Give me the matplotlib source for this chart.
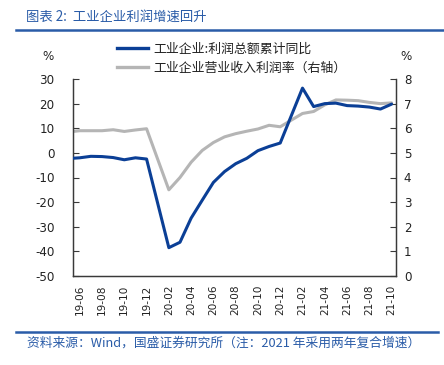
import matplotlib
matplotlib.use("Agg")
import matplotlib.pyplot as plt
from matplotlib.lines import Line2D

plt.rcParams['font.family'] = ['DejaVu Sans', 'Noto Sans CJK SC']
plt.rcParams['axes.unicode_minus'] = False
CJK = ['Noto Sans CJK SC', 'DejaVu Sans']

# ---------------- data ----------------
months = ["19-05", "19-06", "19-07", "19-08", "19-09", "19-10", "19-11", "19-12",
          "20-02", "20-03", "20-04", "20-05", "20-06", "20-07", "20-08", "20-09",
          "20-10", "20-11", "20-12",
          "21-02", "21-03", "21-04", "21-05", "21-06", "21-07", "21-08", "21-09", "21-10"]
profit_yoy = [-2.3, -2.0, -1.4, -1.5, -1.9, -2.8, -2.0, -2.5,
              -38.5, -36.3, -26.5, -19.2, -12.0, -7.6, -4.4, -2.2,
              0.9, 2.6, 4.0,
              26.3, 18.8, 20.0, 20.2, 19.2, 19.0, 18.6, 17.8, 19.8]
margin = [5.85, 5.90, 5.90, 5.90, 5.94, 5.87, 5.93, 5.98,
          3.50, 4.00, 4.62, 5.10, 5.42, 5.65, 5.78, 5.88,
          5.97, 6.12, 6.06,
          6.60, 6.68, 6.95, 7.15, 7.14, 7.12, 7.05, 7.00, 7.03]
tick_labels = ["19-06", "19-08", "19-10", "19-12", "20-02", "20-04", "20-06", "20-08",
               "20-10", "20-12", "21-02", "21-04", "21-06", "21-08", "21-10"]
left_ticks = [30, 20, 10, 0, -10, -20, -30, -40, -50]
right_ticks = [0, 1, 2, 3, 4, 5, 6, 7, 8]
series_names = ["工业企业:利润总额累计同比", "工业企业营业收入利润率（右轴）"]
title_text = "图表 2:  工业企业利润增速回升"
source_text = "资料来源：Wind，国盛证券研究所（注：2021 年采用两年复合增速）"


def month_index(lbl):
    y, m = lbl.split("-")
    return (int(y) - 19) * 12 + int(m) - 6


x = [month_index(m) for m in months]
tx = [month_index(m) for m in tick_labels]

BLUE = "#0b3f96"
GRAY = "#b5b5b5"
HEAD = "#2a5ca8"
SPINE = "#3a3a3a"

fig = plt.figure(figsize=(4.44, 3.65), dpi=100)
W, H = 444, 365
ax = fig.add_axes([72.5 / W, 1 - 276 / H, (395.5 - 72.5) / W, (276 - 79) / H])
ax2 = ax.twinx()

ax2.plot(x, margin, color=GRAY, lw=2.2, solid_joinstyle='round', solid_capstyle='round', zorder=2)
ax.plot(x, profit_yoy, color=BLUE, lw=2.2, solid_joinstyle='round', solid_capstyle='round', zorder=3)
ax.set_zorder(ax2.get_zorder() + 1)
ax.patch.set_visible(False)

ax.set_xlim(-0.65, 28.35)
ax.set_ylim(-50, 30)
ax2.set_ylim(0, 8)
ax.set_yticks(left_ticks)
ax2.set_yticks(right_ticks)
ax.set_xticks(tx)
ax.set_xticklabels(tick_labels, rotation=90, fontsize=7.6, color="#222222")
ax.tick_params(axis='x', length=0, pad=6)
ax.tick_params(axis='y', direction='in', length=4, width=0.8, color=SPINE,
               labelsize=8.6, pad=13, labelcolor="#222222")
ax2.tick_params(axis='y', direction='in', length=4, width=0.8, color=SPINE,
                labelsize=8.6, pad=6, labelcolor="#222222")

for a in (ax, ax2):
    a.spines['top'].set_visible(False)
    for s in ('left', 'right', 'bottom'):
        a.spines[s].set_color(SPINE)
        a.spines[s].set_linewidth(0.9)

# percent labels
fig.text(48 / W, 1 - 56 / H, "%", fontsize=8.6, color="#222222", ha='center', va='center')
fig.text(406 / W, 1 - 57 / H, "%", fontsize=8.6, color="#222222", ha='center', va='center')

# legend
handles = [Line2D([], [], color=BLUE, lw=2.4), Line2D([], [], color=GRAY, lw=2.4)]
leg = fig.legend(handles, series_names, loc='upper left',
                 bbox_to_anchor=(117 / W, 1 - 42.5 / H), frameon=False,
                 prop={'family': CJK, 'size': 9.3}, handlelength=2.4,
                 handletextpad=0.4, labelspacing=0.5, borderpad=0, borderaxespad=0)
for t in leg.get_texts():
    t.set_color("#222222")

# header and footer
fig.text(26 / W, 1 - 17 / H, title_text, fontsize=9.6, color=HEAD, family=CJK,
         ha='left', va='center', style='italic')
fig.add_artist(Line2D([16 / W, 1.0], [1 - 29.5 / H, 1 - 29.5 / H], color=HEAD, lw=1.8))
fig.add_artist(Line2D([16 / W, 438 / W], [1 - 331.5 / H, 1 - 331.5 / H], color=HEAD, lw=1.8))
fig.text(27 / W, 1 - 343 / H, source_text, fontsize=9.2, color=HEAD, family=CJK,
         ha='left', va='center', style='italic')

fig.savefig("out.png", dpi=100)
